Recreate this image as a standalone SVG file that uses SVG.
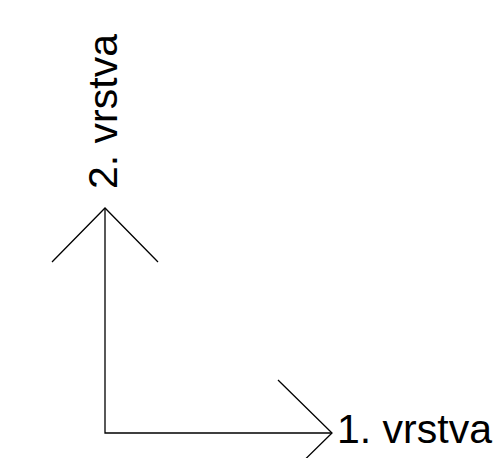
<svg xmlns="http://www.w3.org/2000/svg" width="497" height="458" viewBox="0 0 497 458">
<style>
.ln{stroke:#000;stroke-width:1.3;fill:none}
.lbl{font-family:"Liberation Sans",Arial,sans-serif;font-size:41px;fill:#000}
</style>
<rect width="497" height="458" fill="#fff"/>
<g id="connectors">
<path class="ln" d="M105,208 V433 H332"/>
<path class="ln" d="M52,262 L105,208 L158,262"/>
<path class="ln" d="M278,380 L332,433 L278,486"/>
</g>
<g id="label-1"><text class="lbl" x="337" y="443">1. vrstva</text></g>
<g id="label-2"><text class="lbl" transform="translate(117,189) rotate(-90)">2. vrstva</text></g>
</svg>
